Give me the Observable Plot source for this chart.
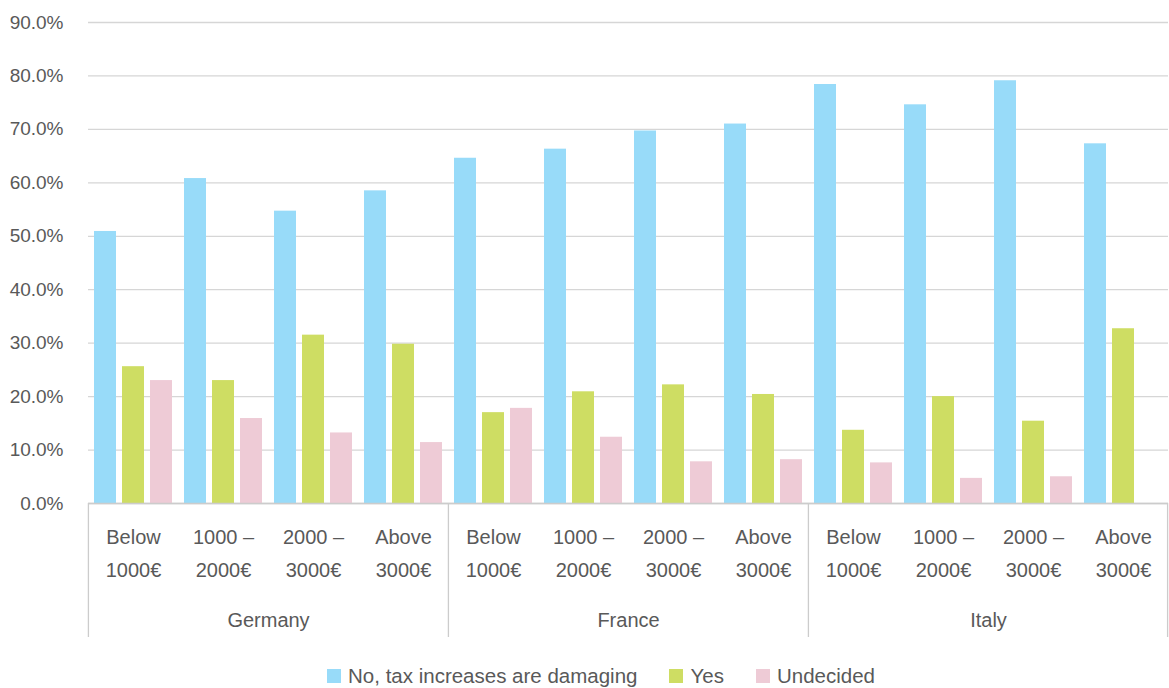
<!DOCTYPE html>
<html>
<head>
<meta charset="utf-8">
<script src="https://cdn.jsdelivr.net/npm/d3@7"></script>
<script src="https://cdn.jsdelivr.net/npm/@observablehq/plot@0.6"></script>
<style>
  html, body { margin: 0; padding: 0; background: #fff; overflow: hidden; }
  body { font-family: "Liberation Sans", Arial, sans-serif; color: #595959; }
  #legend { display: flex; justify-content: center; align-items: center; padding-left: 33px; margin-top: 16px; font-size: 20.5px; color: #595959; }
  #legend .item { display: flex; align-items: center; margin-right: 32px; }
  #legend .item:last-child { margin-right: 0; }
  #legend .sw { width: 14px; height: 14px; margin-right: 7px; }
</style>
</head>
<body>
<div id="chart"></div>
<div id="legend"></div>
<script>
const countries = ["Germany", "France", "Italy"];
const incomes = ["Below 1000€", "1000 – 2000€", "2000 – 3000€", "Above 3000€"];
const incomeLabels = ["Below\n1000€", "1000 –\n2000€", "2000 –\n3000€", "Above\n3000€"];
const series = ["No, tax increases are damaging", "Yes", "Undecided"];
const colors = ["#98dbf9", "#cedd63", "#eecbd6"];
const yTicks = [0, 10, 20, 30, 40, 50, 60, 70, 80, 90];

// values in %, order: Germany x4 incomes, France x4, Italy x4
const noValues =        [50.9, 60.8, 54.7, 58.5, 64.6, 66.3, 69.7, 71.0, 78.4, 74.6, 79.1, 67.3];
const yesValues =       [25.6, 23.0, 31.5, 29.8, 17.0, 20.9, 22.2, 20.4, 13.7, 20.0, 15.4, 32.7];
const undecidedValues = [23.0, 15.9, 13.2, 11.4, 17.8, 12.4, 7.8, 8.2, 7.6, 4.7, 5.0, 0];

const seriesValues = [noValues, yesValues, undecidedValues];

const facets = [];
countries.forEach((c, i) => incomes.forEach((inc, j) => {
  facets.push({key: c + " | " + inc, country: c, label: incomeLabels[j], index: i * 4 + j});
}));
const data = [];
facets.forEach(f => series.forEach((s, k) => {
  data.push({facet: f.key, series: s, value: seriesValues[k][f.index]});
}));

const W = 1169, H = 648;
const mL = 87, mR = 0, mT = 22, mB = 145;
const fw = (W - mL - mR) / facets.length;
const innerH = H - mT - mB;

const groupStarts = countries.map((c, i) => facets[i * 4].key);
const groupMid = countries.map((c, i) => ({key: facets[i * 4 + 1].key, country: c}));
const lastFacet = [facets[facets.length - 1].key];

const chart = Plot.plot({
  width: W,
  height: H,
  marginLeft: mL,
  marginRight: mR,
  marginTop: mT,
  marginBottom: mB,
  style: {fontFamily: "'Liberation Sans', Arial, sans-serif", fontSize: "19px", color: "#595959", overflow: "visible"},
  fx: {domain: facets.map(f => f.key), padding: 0, axis: null},
  x: {domain: series, paddingInner: 0.2, paddingOuter: 0.18, axis: null},
  y: {domain: [0, 90], axis: null},
  color: {domain: series, range: colors},
  marks: [
    Plot.ruleY(yTicks, {stroke: "#d6d6d6", strokeWidth: 1.3}),
    Plot.barY(data, {fx: "facet", x: "series", y: "value", fill: "series"}),
    Plot.ruleY([0], {stroke: "#cccccc", strokeWidth: 1.5}),
    Plot.axisY({ticks: yTicks, tickSize: 0, tickPadding: 25, tickFormat: d => d.toFixed(1) + "%", fontSize: 19, label: null}),
    Plot.text(facets, {fx: "key", text: "label", frameAnchor: "bottom", lineAnchor: "top", dy: 17, lineHeight: 1.65, fontSize: 20, fill: "#595959"}),
    Plot.text(groupMid, {fx: "key", text: "country", frameAnchor: "bottom-right", textAnchor: "middle", lineAnchor: "middle", dy: 117, fontSize: 20, fill: "#595959"}),
    Plot.ruleX(groupStarts, {fx: d => d, x: null, dx: -fw / 2, insetTop: innerH, insetBottom: -134, stroke: "#cccccc", strokeWidth: 1.3}),
    Plot.ruleX(lastFacet, {fx: d => d, x: null, dx: fw / 2 - 1, insetTop: innerH, insetBottom: -134, stroke: "#cccccc", strokeWidth: 1.3})
  ]
});
document.getElementById("chart").appendChild(chart);

const legend = document.getElementById("legend");
series.forEach((s, k) => {
  const item = document.createElement("div");
  item.className = "item";
  const sw = document.createElement("span");
  sw.className = "sw";
  sw.style.background = colors[k];
  const t = document.createElement("span");
  t.textContent = s;
  item.appendChild(sw);
  item.appendChild(t);
  legend.appendChild(item);
});
</script>
</body>
</html>
